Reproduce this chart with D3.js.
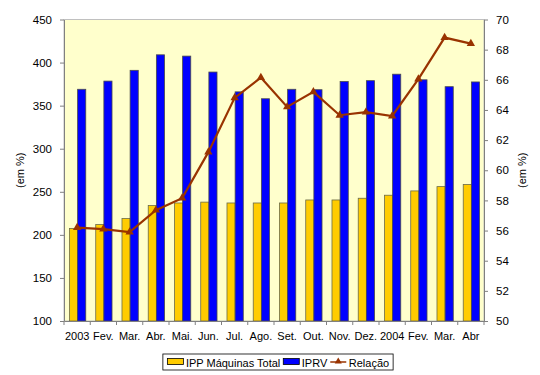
<!DOCTYPE html>
<html>
<head>
<meta charset="utf-8">
<script src="https://cdn.jsdelivr.net/npm/d3@7"></script>
<style>
  body { margin: 0; background: #fff; }
  svg { font-family: "Liberation Sans", Arial, sans-serif; }
</style>
</head>
<body>
<div id="chart"></div>
<script>
// Months (first and 13th are the year marks)
const months = ["2003", "Fev.", "Mar.", "Abr.", "Mai.", "Jun.", "Jul.", "Ago.", "Set.", "Out.", "Nov.", "Dez.", "2004", "Fev.", "Mar.", "Abr"];
// IPP Máquinas Total (left axis)
const ippMaquinas = [207.5, 212, 219, 234, 237, 238, 237, 237, 237, 240.5, 240.5, 242.5, 246, 251, 256, 258.5];
// IPRV (left axis)
const iprv = [369, 378.5, 391, 409, 407.5, 389, 366, 358, 369, 368.5, 378, 379, 386.5, 380, 372, 377.5];
// Relação (right axis)
const relacao = [56.2, 56.1, 55.9, 57.35, 58.15, 61.2, 64.8, 66.15, 64.2, 65.2, 63.65, 63.85, 63.6, 66.05, 68.8, 68.4];

const leftTicks = [100, 150, 200, 250, 300, 350, 400, 450];
const rightTicks = [50, 52, 54, 56, 58, 60, 62, 64, 66, 68, 70];

const width = 540, height = 375;
const margin = { top: 19.5, right: 56, bottom: 54, left: 64 };
const plotW = width - margin.left - margin.right;
const plotH = height - margin.top - margin.bottom;

const yellow = "#FFCC00";
const blue = "#0000FF";
const lineColour = "#993300";
const fontSize = 11;

const svg = d3.select("#chart")
    .append("svg")
    .attr("width", width)
    .attr("height", height);

const g = svg.append("g")
    .attr("transform", `translate(${margin.left},${margin.top})`);

// scales
const x = d3.scaleBand()
    .domain(d3.range(months.length))
    .range([0, plotW]);

const yLeft = d3.scaleLinear().domain([100, 450]).range([plotH, 0]);
const yRight = d3.scaleLinear().domain([50, 70]).range([plotH, 0]);

const barW = x.bandwidth() * 0.31;
const groupOffset = (x.bandwidth() - 2 * barW) / 2 + 0.5;

// plot background
g.append("rect")
    .attr("width", plotW)
    .attr("height", plotH)
    .attr("fill", "#FFFFCC")
    .attr("stroke", "#C0C0C0")
    .attr("stroke-width", 1);

// bars
g.selectAll(".bar-ipp")
    .data(ippMaquinas)
    .enter()
    .append("rect")
    .attr("x", (d, i) => x(i) + groupOffset)
    .attr("y", d => yLeft(d))
    .attr("width", barW)
    .attr("height", d => plotH - yLeft(d))
    .attr("fill", yellow)
    .attr("stroke", "#6b6b4a")
    .attr("stroke-width", 0.8);

g.selectAll(".bar-iprv")
    .data(iprv)
    .enter()
    .append("rect")
    .attr("x", (d, i) => x(i) + groupOffset + barW)
    .attr("y", d => yLeft(d))
    .attr("width", barW)
    .attr("height", d => plotH - yLeft(d))
    .attr("fill", blue)
    .attr("stroke", "#4a4a4a")
    .attr("stroke-width", 0.8);

// line
const line = d3.line()
    .x((d, i) => x(i) + x.bandwidth() / 2)
    .y(d => yRight(d));

g.append("path")
    .datum(relacao)
    .attr("d", line)
    .attr("fill", "none")
    .attr("stroke", lineColour)
    .attr("stroke-width", 2.2);

const tri = d3.symbol().type(d3.symbolTriangle).size(30);
g.selectAll(".marker")
    .data(relacao)
    .enter()
    .append("path")
    .attr("d", tri)
    .attr("transform", (d, i) => `translate(${x(i) + x.bandwidth() / 2},${yRight(d)})`)
    .attr("fill", lineColour);

// axes
const axisColour = "#808080";

const xAxis = g.append("g")
    .attr("transform", `translate(0,${plotH})`)
    .call(d3.axisBottom(x).tickSize(0).tickFormat(i => months[i]).tickPadding(11));
xAxis.select(".domain").attr("stroke", axisColour);
xAxis.selectAll("text").attr("font-size", fontSize).attr("fill", "#000");
// tick marks between categories
g.selectAll(".xtick")
    .data(d3.range(months.length + 1))
    .enter()
    .append("line")
    .attr("x1", i => i * x.step())
    .attr("x2", i => i * x.step())
    .attr("y1", plotH)
    .attr("y2", plotH + 4)
    .attr("stroke", axisColour);

const leftAxis = g.append("g")
    .call(d3.axisLeft(yLeft).tickValues(leftTicks).tickSize(4).tickSizeOuter(0).tickPadding(8));
leftAxis.select(".domain").attr("stroke", axisColour);
leftAxis.selectAll("line").attr("stroke", axisColour);
leftAxis.selectAll("text").attr("font-size", 11.5).attr("fill", "#000");

const rightAxis = g.append("g")
    .attr("transform", `translate(${plotW},0)`)
    .call(d3.axisRight(yRight).tickValues(rightTicks).tickSize(4).tickSizeOuter(0).tickPadding(8));
rightAxis.select(".domain").attr("stroke", axisColour);
rightAxis.selectAll("line").attr("stroke", axisColour);
rightAxis.selectAll("text").attr("font-size", 11.5).attr("fill", "#000");

// axis titles
svg.append("text")
    .attr("transform", `translate(24,${margin.top + plotH / 2}) rotate(-90)`)
    .attr("text-anchor", "middle")
    .attr("font-size", fontSize)
    .text("(em %)");

svg.append("text")
    .attr("transform", `translate(526,${margin.top + plotH / 2}) rotate(-90)`)
    .attr("text-anchor", "middle")
    .attr("font-size", fontSize)
    .text("(em %)");

// legend: items laid out one after the other
const legend = svg.append("g").attr("transform", "translate(154,354)");
const legendBox = legend.append("rect")
    .attr("height", 16)
    .attr("fill", "#fff")
    .attr("stroke", "#000")
    .attr("stroke-width", 0.8);

const legendItems = [
    { name: "IPP Máquinas Total", type: "bar", colour: yellow },
    { name: "IPRV", type: "bar", colour: blue },
    { name: "Relação", type: "line", colour: lineColour }
];

let cursor = 4.5;
legendItems.forEach(item => {
    if (item.type === "bar") {
        legend.append("rect")
            .attr("x", cursor).attr("y", 4.5).attr("width", 16).attr("height", 6)
            .attr("fill", item.colour).attr("stroke", "#000").attr("stroke-width", 0.8);
    } else {
        legend.append("line")
            .attr("x1", cursor).attr("x2", cursor + 16).attr("y1", 8).attr("y2", 8)
            .attr("stroke", item.colour).attr("stroke-width", 1.5);
        legend.append("path")
            .attr("d", d3.symbol().type(d3.symbolTriangle).size(22))
            .attr("transform", `translate(${cursor + 8},7.5)`)
            .attr("fill", item.colour);
    }
    const t = legend.append("text")
        .attr("x", cursor + 18.5).attr("y", 12.5)
        .attr("font-size", fontSize)
        .text(item.name);
    cursor += 18.5 + t.node().getComputedTextLength() + 3;
});
legendBox.attr("width", cursor + 1);
legend.attr("transform", `translate(${278 - (cursor + 1) / 2},354)`);
</script>
</body>
</html>
